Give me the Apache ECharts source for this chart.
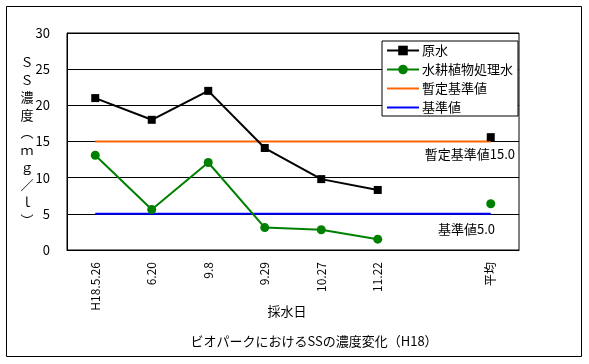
<!DOCTYPE html>
<html>
<head>
<meta charset="utf-8">
<script src="https://cdn.jsdelivr.net/npm/echarts@6/dist/echarts.min.js"></script>
<style>html,body{margin:0;padding:0;background:#fff;}#c{width:589px;height:364px;}</style>
</head>
<body>
<div id="c"></div>
<script>
var categories = ['H18.5.26', '6.20', '9.8', '9.29', '10.27', '11.22', '', '平均'];
var rawWater = [21.0, 18.0, 22.0, 14.1, 9.8, 8.3, null, 15.6];
var treatedWater = [13.1, 5.6, 12.1, 3.1, 2.8, 1.5, null, 6.4];
var provisionalStd = [15, 15, 15, 15, 15, 15, 15, 15];
var standard = [5, 5, 5, 5, 5, 5, 5, 5];
var seriesNames = ['原水', '水耕植物処理水', '暫定基準値', '基準値'];
var yTicks = {min: 0, max: 30, interval: 5};

var FONT = '"Noto Sans CJK JP", "Noto Sans", sans-serif';
var LINE_ICON = 'path://M0,0 L32,0 L32,2 L0,2 Z';
var chart = echarts.init(document.getElementById('c'), null, {renderer: 'canvas'});
chart.setOption({
  animation: false,
  backgroundColor: '#fff',
  textStyle: {fontFamily: FONT, color: '#000'},
  grid: {left: 67, right: 70, top: 33, bottom: 114, show: true, borderColor: '#000', borderWidth: 1, backgroundColor: 'transparent'},
  legend: {
    orient: 'vertical', left: 382, top: 41,
    itemWidth: 32, itemHeight: 12, itemGap: 6,
    padding: [3, 5, 2, 4],
    backgroundColor: '#fff', borderColor: '#000', borderWidth: 1,
    textStyle: {fontFamily: FONT, fontSize: 13, color: '#000', padding: [0, 0, 0, -2]},
    data: [
      {name: seriesNames[0]},
      {name: seriesNames[1]},
      {name: seriesNames[2], icon: LINE_ICON},
      {name: seriesNames[3], icon: LINE_ICON}
    ]
  },
  xAxis: {
    type: 'category', data: categories, boundaryGap: true,
    axisLine: {lineStyle: {color: '#000', width: 1}},
    axisTick: {inside: true, length: 5, interval: 0, lineStyle: {color: '#000'}},
    axisLabel: {rotate: 90, interval: 0, margin: 12, fontSize: 12, color: '#000', fontFamily: FONT},
    splitLine: {show: false}
  },
  yAxis: {
    type: 'value', min: yTicks.min, max: yTicks.max, interval: yTicks.interval,
    axisLine: {show: true, lineStyle: {color: '#000', width: 1}},
    axisTick: {show: true, inside: true, length: 5, lineStyle: {color: '#000'}},
    axisLabel: {margin: 17, fontSize: 13, color: '#000', fontFamily: FONT},
    splitLine: {show: true, lineStyle: {color: '#000', width: 1}}
  },
  series: [
    {name: seriesNames[0], type: 'line', data: rawWater, connectNulls: false,
     symbol: 'rect', symbolSize: 8, showAllSymbol: true,
     lineStyle: {color: '#000', width: 2}, itemStyle: {color: '#000'}, z: 5},
    {name: seriesNames[1], type: 'line', data: treatedWater, connectNulls: false,
     symbol: 'circle', symbolSize: 9, showAllSymbol: true,
     lineStyle: {color: '#008000', width: 2}, itemStyle: {color: '#008000'}, z: 5},
    {name: seriesNames[2], type: 'line', data: provisionalStd, symbol: 'none',
     lineStyle: {color: '#FF6600', width: 2}, itemStyle: {color: '#FF6600'}, z: 3},
    {name: seriesNames[3], type: 'line', data: standard, symbol: 'none',
     lineStyle: {color: '#0000FF', width: 2}, itemStyle: {color: '#0000FF'}, z: 3}
  ],
  graphic: [
    {type: 'rect', shape: {x: 6.5, y: 6.5, width: 575, height: 350}, style: {fill: 'none', stroke: '#000', lineWidth: 1}, z: -1},
    {type: 'text', x: 27, y: 141, style: {text: 'Ｓ\nＳ\n濃\n度\n︵\nｍ\nｇ\n／\nｌ\n︶', lineHeight: 17.5, fill: '#000', font: '13px ' + FONT, textAlign: 'center', textVerticalAlign: 'middle'}},
    {type: 'text', x: 287, y: 311, style: {text: '採水日', font: '13px ' + FONT, fill: '#000', textAlign: 'center', textVerticalAlign: 'middle'}},
    {type: 'text', x: 314, y: 341, style: {text: 'ビオパークにおけるSSの濃度変化（H18）', font: '13px ' + FONT, fill: '#000', textAlign: 'center', textVerticalAlign: 'middle'}},
    {type: 'text', x: 515, y: 154, style: {text: '暫定基準値15.0', font: '13px ' + FONT, fill: '#000', textAlign: 'right', textVerticalAlign: 'middle'}},
    {type: 'text', x: 495, y: 229, style: {text: '基準値5.0', font: '13px ' + FONT, fill: '#000', textAlign: 'right', textVerticalAlign: 'middle'}}
  ]
});
</script>
</body>
</html>
